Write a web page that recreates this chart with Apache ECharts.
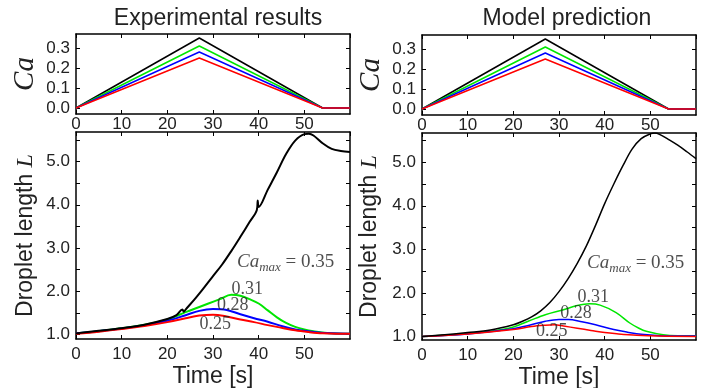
<!DOCTYPE html>
<html><head><meta charset="utf-8">
<script src="https://cdn.jsdelivr.net/npm/echarts@6/dist/echarts.min.js"></script>
<style>html,body{margin:0;padding:0;background:#fff}#c{width:707px;height:388px}</style>
</head><body><div id="c"></div>
<script>
// ---- Data ----
const caT = [0, 27, 54, 60];
const caBlack = [0, 0.35, 0, 0];
const caGreen = [0, 0.31, 0, 0];
const caBlue  = [0, 0.28, 0, 0];
const caRed   = [0, 0.25, 0, 0];

// Experimental results (left)
const expBlackT = [0,5,10,15,20,22,23.3,23.6,24,26,28,30,32,34,36,38,39.6,39.8,40,42,44,46,48,50,51,52,54,56,58,60];
const expBlackL = [1.03,1.09,1.15,1.23,1.36,1.45,1.58,1.53,1.58,1.82,2.08,2.35,2.62,2.93,3.26,3.6,3.88,4.1,3.95,4.35,4.75,5.17,5.48,5.63,5.64,5.6,5.42,5.29,5.24,5.22];
const expGreenT = [0,5,10,15,20,24,27,29,31.5,34,36,38,40,42,44,46,48,50,52,55,60];
const expGreenL = [1.03,1.08,1.15,1.23,1.35,1.52,1.64,1.72,1.82,1.92,1.9,1.82,1.72,1.56,1.4,1.27,1.18,1.12,1.08,1.04,1.02];
const expBlueT = [0,5,10,15,20,24,27,30,33,36,39,42,45,48,50,53,56,60];
const expBlueL = [1.03,1.08,1.14,1.22,1.32,1.45,1.55,1.59,1.57,1.47,1.38,1.3,1.2,1.12,1.09,1.05,1.03,1.02];
const expRedT = [0,5,10,15,20,24,27,30,33,36,39,42,45,48,51,54,57,60];
const expRedL = [1.02,1.07,1.13,1.2,1.29,1.38,1.44,1.46,1.42,1.35,1.29,1.22,1.16,1.1,1.06,1.03,1.02,1.02];

// Model prediction (right)
const modBlackT = [0,5,10,15,20,22,24,26,28,30,32,34,36,38,40,42,44,46,48,50,51,52,54,56,58,60];
const modBlackL = [1.0,1.04,1.09,1.15,1.27,1.35,1.45,1.59,1.78,2.03,2.33,2.68,3.08,3.55,4.05,4.5,4.92,5.3,5.54,5.65,5.67,5.64,5.52,5.39,5.24,5.08];
const modGreenT = [0,5,10,15,20,23.5,27,30.8,34,36.7,39,42.5,45.5,47.5,49.1,52.8,56,60];
const modGreenL = [1.0,1.03,1.07,1.12,1.22,1.36,1.5,1.61,1.71,1.75,1.72,1.55,1.31,1.19,1.12,1.04,1.02,1.02];
const modBlueT = [0,10,20,23.5,27,30,32,35,38,42,45,48,52,60];
const modBlueL = [1.0,1.06,1.18,1.26,1.35,1.39,1.39,1.34,1.27,1.16,1.1,1.05,1.02,1.01];
const modRedT = [0,10,20,24,27,29,31,34,37,40,43,47,52,60];
const modRedL = [1.0,1.06,1.16,1.23,1.26,1.27,1.24,1.19,1.14,1.09,1.06,1.03,1.01,1.0];

// Annotations [t, L]
const expLabelPos = [[45.9,2.67],[37.5,2.04],[34.3,1.69],[30.5,1.23]];
const modLabelPos = [[46.8,2.69],[37.5,1.91],[33.7,1.54],[28.4,1.11]];
const labelTexts = ['{ca|Ca}{sub|max}{eq| = 0.35}','0.31','0.28','0.25'];

const caTicks = [0,0.1,0.2,0.3];
const lTicks = [1,1.5,2,2.5,3,3.5,4,4.5,5,5.5];
const lLabels = [1,2,3,4,5];

const titles = ['Experimental results','Model prediction'];

// ---- Build ----
const SANS = "'Liberation Sans', Arial, sans-serif";
const SERIF = "'Liberation Serif', 'Times New Roman', serif";
const TXT = '#222';
const COLORS = {black:'#000000', green:'#00e600', blue:'#0000ff', red:'#ff0000'};
const zip = (t, v) => t.map((x, i) => [x, v[i]]);

const grids = [
  {left:76, top:34, width:274, height:80, outerBoundsMode:'none', containLabel:false},
  {left:76, top:132, width:274, height:207, outerBoundsMode:'none', containLabel:false},
  {left:422, top:35, width:274, height:80, outerBoundsMode:'none', containLabel:false},
  {left:422, top:133, width:274, height:207, outerBoundsMode:'none', containLabel:false}
];
const lineStyleAxis = {color:'#000', width:1.5};
const xAxes = [], yAxes = [];
grids.forEach((g, i) => {
  const isTop = (i % 2 === 0);
  const isLeft = i < 2;
  xAxes.push({type:'value', gridIndex:i, min:0, max:60, interval:10, position:'bottom',
    axisLine:{show:true, onZero:false, lineStyle:lineStyleAxis},
    axisTick:{show:true, inside:true, length:4, lineStyle:{color:'#000'}},
    axisLabel:{show:true, showMaxLabel:false, color:TXT, fontFamily:SANS, fontSize:17, margin: isTop ? 2 : 7},
    splitLine:{show:false},
    name: isTop ? '' : 'Time [s]', nameLocation:'middle', nameGap:26, nameMoveOverlap:false,
    nameTextStyle:{fontFamily:SANS, fontSize:23, color:TXT}
  });
  xAxes.push({type:'value', gridIndex:i, min:0, max:60, interval:10, position:'top',
    axisLine:{show:true, onZero:false, lineStyle:lineStyleAxis},
    axisTick:{show:true, inside:true, length:4, lineStyle:{color:'#000'}},
    axisLabel:{show:false}, splitLine:{show:false}
  });
  const ymin = isTop ? -0.03 : (isLeft ? 0.9 : 0.92);
  const ymax = isTop ? 0.37 : (isLeft ? 5.68 : 5.67);
  const tickVals = isTop ? caTicks : lTicks;
  const labVals = isTop ? caTicks : lLabels;
  yAxes.push({type:'value', gridIndex:i, min:ymin, max:ymax, position:'left',
    axisLine:{show:true, onZero:false, lineStyle:lineStyleAxis},
    axisTick:{show:true, inside:true, length:4, customValues:tickVals, lineStyle:{color:'#000'}},
    axisLabel:{show:true, customValues:labVals, color:TXT, fontFamily:SANS, fontSize:17, margin:6,
      formatter:v => Number(v).toFixed(1)},
    splitLine:{show:false},
    name: isTop ? '{c|Ca}' : '{a|Droplet length }{b|L}',
    nameLocation:'middle', nameGap: isTop ? 36 : (isLeft ? 38 : 40), nameMoveOverlap:false,
    nameTextStyle:{color:TXT, rich:{
      c:{fontFamily:SERIF, fontStyle:'italic', fontSize:29, color:TXT},
      a:{fontFamily:SANS, fontSize:23, color:TXT},
      b:{fontFamily:SERIF, fontStyle:'italic', fontSize:24, color:TXT}
    }}
  });
  yAxes.push({type:'value', gridIndex:i, min:ymin, max:ymax, position:'right',
    axisLine:{show:true, onZero:false, lineStyle:lineStyleAxis},
    axisTick:{show:true, inside:true, length:4, customValues:tickVals, lineStyle:{color:'#000'}},
    axisLabel:{show:false}, splitLine:{show:false}
  });
});

const series = [];
function addLine(gi, data, color, width) {
  series.push({type:'line', xAxisIndex:gi*2, yAxisIndex:gi*2, data:data, showSymbol:false,
    symbol:'none', smooth:false, lineStyle:{color:color, width:width}, silent:true, animation:false, z:3});
}
[0,2].forEach(gi => {
  addLine(gi, zip(caT, caBlack), COLORS.black, 1.5);
  addLine(gi, zip(caT, caGreen), COLORS.green, 1.5);
  addLine(gi, zip(caT, caBlue), COLORS.blue, 1.5);
  addLine(gi, zip(caT, caRed), COLORS.red, 1.5);
});
function addSmooth(gi, data, color, width) {
  series.push({type:'line', xAxisIndex:gi*2, yAxisIndex:gi*2, data:data, showSymbol:false,
    symbol:'none', smooth:0.35, lineStyle:{color:color, width:width}, silent:true, animation:false, z:3});
}
addSmooth(1, zip(expGreenT, expGreenL), COLORS.green, 2);
addSmooth(1, zip(expBlueT, expBlueL), COLORS.blue, 2);
addSmooth(1, zip(expRedT, expRedL), COLORS.red, 2);
addSmooth(1, zip(expBlackT, expBlackL), COLORS.black, 2);
addSmooth(3, zip(modGreenT, modGreenL), COLORS.green, 1.5);
addSmooth(3, zip(modBlueT, modBlueL), COLORS.blue, 1.5);
addSmooth(3, zip(modRedT, modRedL), COLORS.red, 1.5);
addSmooth(3, zip(modBlackT, modBlackL), COLORS.black, 1.5);

const richLab = {
  ca:{fontFamily:SERIF, fontStyle:'italic', fontSize:19, color:TXT, lineHeight:24},
  sub:{fontFamily:SERIF, fontStyle:'italic', fontSize:13, color:TXT, verticalAlign:'bottom', lineHeight:24},
  eq:{fontFamily:SERIF, fontSize:19, color:TXT, lineHeight:24}
};
function addLabels(gi, pos) {
  series.push({type:'scatter', xAxisIndex:gi*2, yAxisIndex:gi*2, symbolSize:0, silent:true, animation:false, z:5,
    data: pos.map((p, k) => ({value:p, name:labelTexts[k]})),
    label:{show:true, position:'inside', formatter:p => p.name,
      fontFamily:SERIF, fontSize:18, color:TXT, rich:richLab}
  });
}
addLabels(1, expLabelPos);
addLabels(3, modLabelPos);

const chart = echarts.init(document.getElementById('c'), null, {renderer:'canvas'});
chart.setOption({
  animation:false,
  backgroundColor:'#fff',
  grid:grids,
  xAxis:xAxes,
  yAxis:yAxes,
  series:series,
  graphic:[
    {type:'text', x:218, y:19, style:{text:titles[0], fontFamily:SANS, fontSize:23, fill:TXT, textAlign:'center', textVerticalAlign:'middle'}},
    {type:'text', x:567, y:19, style:{text:titles[1], fontFamily:SANS, fontSize:23, fill:TXT, textAlign:'center', textVerticalAlign:'middle'}}
  ]
});
</script></body></html>
